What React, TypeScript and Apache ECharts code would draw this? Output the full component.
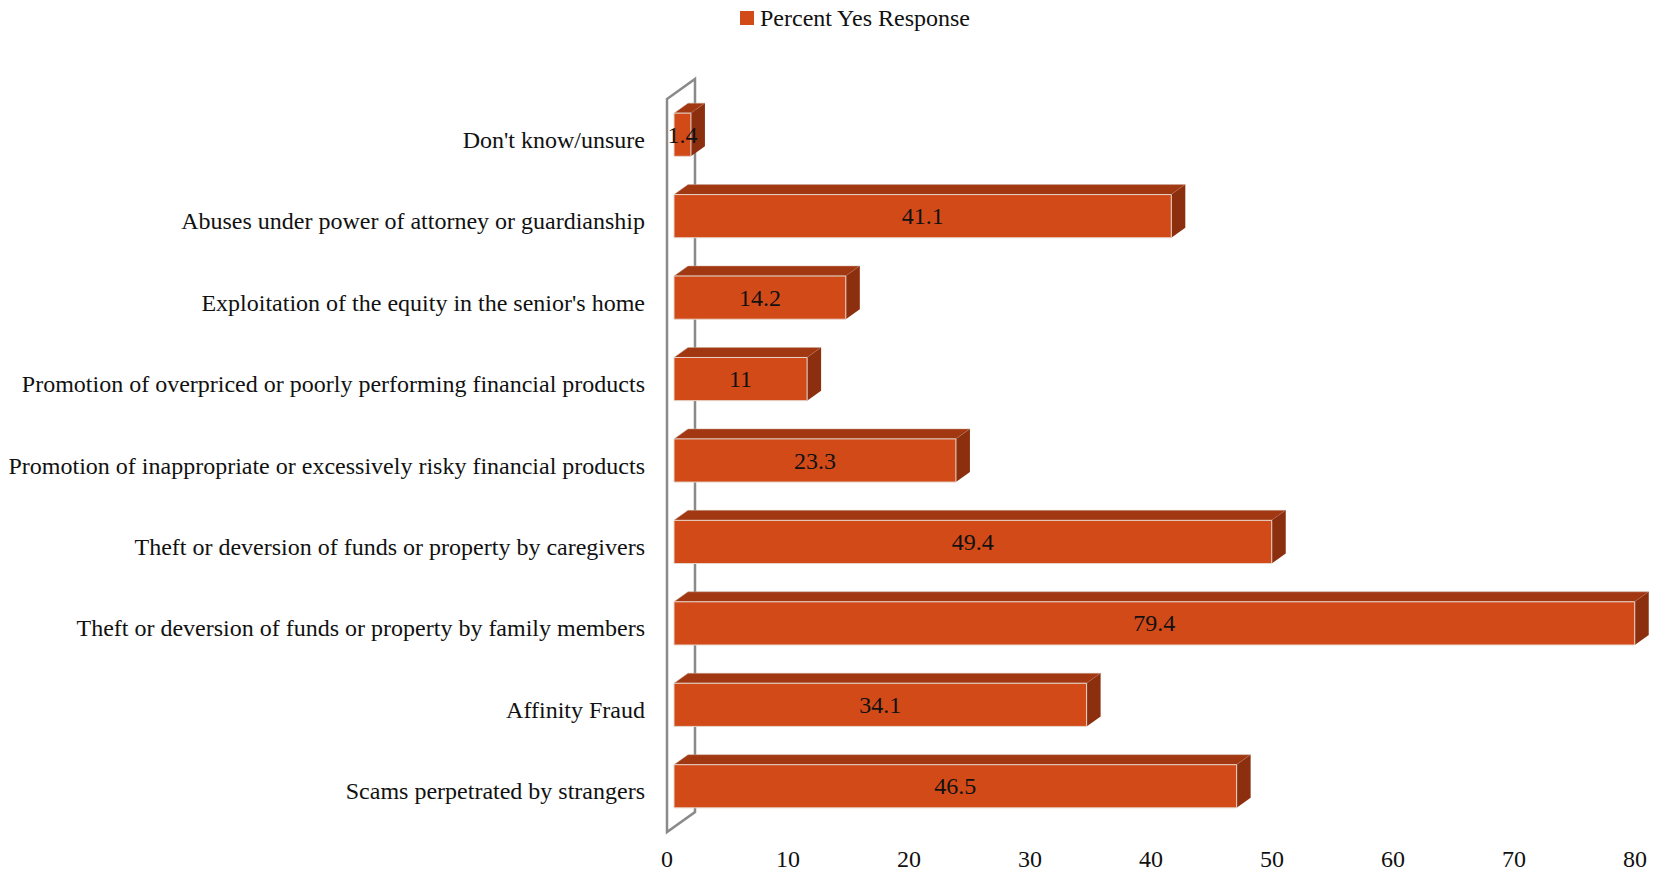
import React, { useEffect, useRef } from "react";
import * as echarts from "echarts";

const categories = [
  "Scams perpetrated by strangers",
  "Affinity Fraud",
  "Theft or deversion of funds or property by family members",
  "Theft or deversion of funds or property by caregivers",
  "Promotion of inappropriate or excessively risky financial products",
  "Promotion of overpriced or poorly performing financial products",
  "Exploitation of the equity in the senior's home",
  "Abuses under power of attorney or guardianship",
  "Don't know/unsure",
];
const values = [46.5, 34.1, 79.4, 49.4, 23.3, 11, 14.2, 41.1, 1.4];
const seriesName = "Percent Yes Response";
const xTicks = { min: 0, max: 80, interval: 10 };

const FONT = '"Liberation Serif", "Times New Roman", serif';
const FS = 24;
const FRONT = "#d24a18";
const TOP = "#a23812";
const SIDE = "#8c2f0f";

export default function App() {
  const ref = useRef<HTMLDivElement>(null);
  useEffect(() => {
    document.body.style.margin = "0";
    if (!ref.current) return;
    const chart = echarts.init(ref.current, undefined, { renderer: "svg" });
    chart.setOption({
      animation: false,
      backgroundColor: "#ffffff",
      textStyle: { fontFamily: FONT },
      legend: {
        left: 735,
        top: 1,
        itemWidth: 14,
        itemHeight: 14,
        itemGap: 10,
        textStyle: { fontFamily: FONT, fontSize: FS, color: "#111", padding: [0, 0, 0, 1] },
        data: [{ name: seriesName, icon: "rect", itemStyle: { color: FRONT } }],
      },
      grid: { left: 667, right: 22, top: 99, bottom: 41, containLabel: false },
      xAxis: {
        type: "value",
        min: xTicks.min,
        max: xTicks.max,
        interval: xTicks.interval,
        axisLine: { show: false },
        axisTick: { show: false },
        splitLine: { show: false },
        axisLabel: { fontFamily: FONT, fontSize: FS, color: "#111", margin: 15 },
      },
      yAxis: {
        type: "category",
        data: categories,
        axisLine: { show: false },
        axisTick: { show: false },
        splitLine: { show: false },
        axisLabel: { fontFamily: FONT, fontSize: FS, color: "#111", margin: 22 },
      },
      graphic: [
        {
          type: "polygon",
          z: 1,
          shape: { points: [[667, 99], [695, 79], [695, 812], [667, 832]] },
          style: { fill: "none", stroke: "#8a8a8a", lineWidth: 2.5 },
        },
      ],
      series: [
        {
          type: "custom",
          name: seriesName,
          z: 5,
          itemStyle: { color: FRONT },
          data: values.map((v, i) => [v, i]),
          encode: { x: 0, y: 1 },
          renderItem: (params: any, api: any) => {
            const v = api.value(0);
            const ci = api.value(1);
            const p0 = api.coord([0, ci]);
            const p1 = api.coord([v, ci]);
            const band = api.size([0, 1])[1];
            const h = band * 0.53;
            const x0 = p0[0] + 7;
            const x1 = p1[0] + 7;
            const cy = p0[1] - 5;
            const yt = cy - h / 2;
            const yb = cy + h / 2;
            const dx = 14;
            const dy = 10;
            return {
              type: "group",
              children: [
                {
                  type: "polygon",
                  shape: { points: [[x0, yt], [x0 + dx, yt - dy], [x1 + dx, yt - dy], [x1, yt]] },
                  style: { fill: TOP, stroke: "#c9a89a", lineWidth: 0.5 },
                },
                {
                  type: "polygon",
                  shape: { points: [[x1, yt], [x1 + dx, yt - dy], [x1 + dx, yb - dy], [x1, yb]] },
                  style: { fill: SIDE },
                },
                {
                  type: "rect",
                  shape: { x: x0, y: yt, width: x1 - x0, height: h },
                  style: { fill: FRONT, stroke: "#e6d6cc", lineWidth: 1 },
                },
                {
                  type: "text",
                  style: {
                    text: String(v),
                    x: (x0 + x1) / 2,
                    y: cy,
                    align: "center",
                    verticalAlign: "middle",
                    fontFamily: FONT,
                    fontSize: FS,
                    fill: "#111",
                  },
                },
              ],
            };
          },
        },
      ],
    });
    return () => chart.dispose();
  }, []);
  return <div ref={ref} style={{ width: 1657, height: 873 }} />;
}
